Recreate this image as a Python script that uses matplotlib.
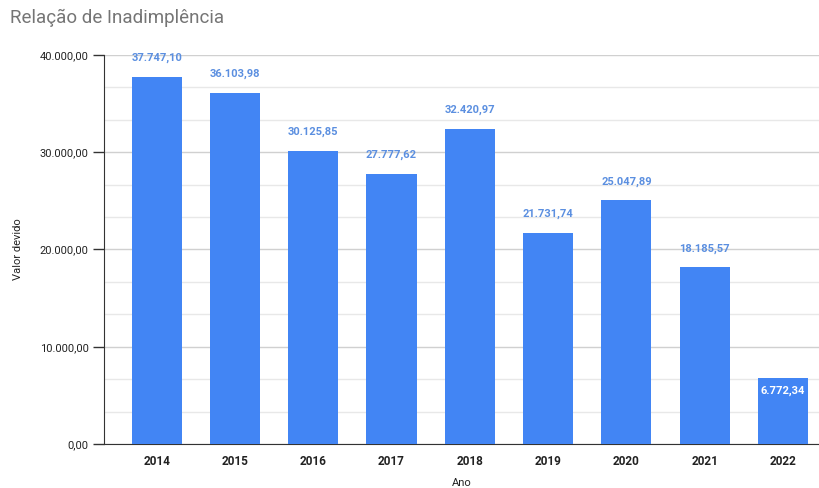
import numpy as np
import matplotlib
matplotlib.use("Agg")
import matplotlib.pyplot as plt
from matplotlib.ticker import MultipleLocator, FuncFormatter

anos = ["2014", "2015", "2016", "2017", "2018", "2019", "2020", "2021", "2022"]
valores = [37747.10, 36103.98, 30125.85, 27777.62, 32420.97, 21731.74, 25047.89, 18185.57, 6772.34]
rotulos = ["37.747,10", "36.103,98", "30.125,85", "27.777,62", "32.420,97",
           "21.731,74", "25.047,89", "18.185,57", "6.772,34"]

plt.rcParams['font.family'] = ['Roboto', 'DejaVu Sans']

azul = '#4285f4'


def br_fmt(v, pos):
    s = "{:,.2f}".format(v)
    return s.replace(",", "X").replace(".", ",").replace("X", ".")


fig = plt.figure(figsize=(8.19, 4.88), dpi=100)
ax = fig.add_axes([104 / 819, 1 - 444 / 488, 1 - 104 / 819, (444 - 55) / 488])

x = np.arange(len(anos))
ax.bar(x, valores, width=0.64, color=azul, zorder=3)

ax.set_ylim(0, 40000)
ax.set_xlim(-0.673, 8.46)
ax.yaxis.set_major_locator(MultipleLocator(10000))
ax.yaxis.set_minor_locator(MultipleLocator(10000 / 3))
ax.yaxis.set_major_formatter(FuncFormatter(br_fmt))
ax.grid(axis='y', which='major', color='#d0d0d0', linewidth=1, zorder=0)
ax.grid(axis='y', which='minor', color='#e8e8e8', linewidth=1, zorder=0)
ax.tick_params(axis='y', which='minor', length=0)
ax.tick_params(axis='y', which='major', length=8, width=1, color='#333333',
               labelsize=8, labelcolor='#222222', pad=3)
ax.tick_params(axis='x', length=0, labelsize=8.5, pad=8)

ax.set_xticks(x)
ax.set_xticklabels(anos, fontweight='bold', color='#222222')

for s in ['top', 'right']:
    ax.spines[s].set_visible(False)
ax.spines['left'].set_color('#333333')
ax.spines['bottom'].set_color('#333333')

for i, (v, t) in enumerate(zip(valores, rotulos)):
    if i == len(valores) - 1:
        ax.text(i, v - 1300, t, ha='center', va='center', color='white',
                fontsize=8, fontweight='bold', zorder=4)
    else:
        ax.text(i, v + 1400, t, ha='center', va='bottom', color='#5b8fe0',
                fontsize=8, fontweight='bold', zorder=4)

ax.set_ylabel("Valor devido", fontsize=8, color='#222222')
ax.yaxis.set_label_coords((23 - 104) / 715, 0.5)
ax.set_xlabel("Ano", fontsize=8, color='#222222')
ax.xaxis.set_label_coords(0.5, (444 - 478) / 389)

fig.text(10 / 819, 1 - 18 / 488, "Relação de Inadimplência", fontsize=13.5,
         color='#757575', va='center', ha='left')

fig.savefig("out.png", dpi=100)
